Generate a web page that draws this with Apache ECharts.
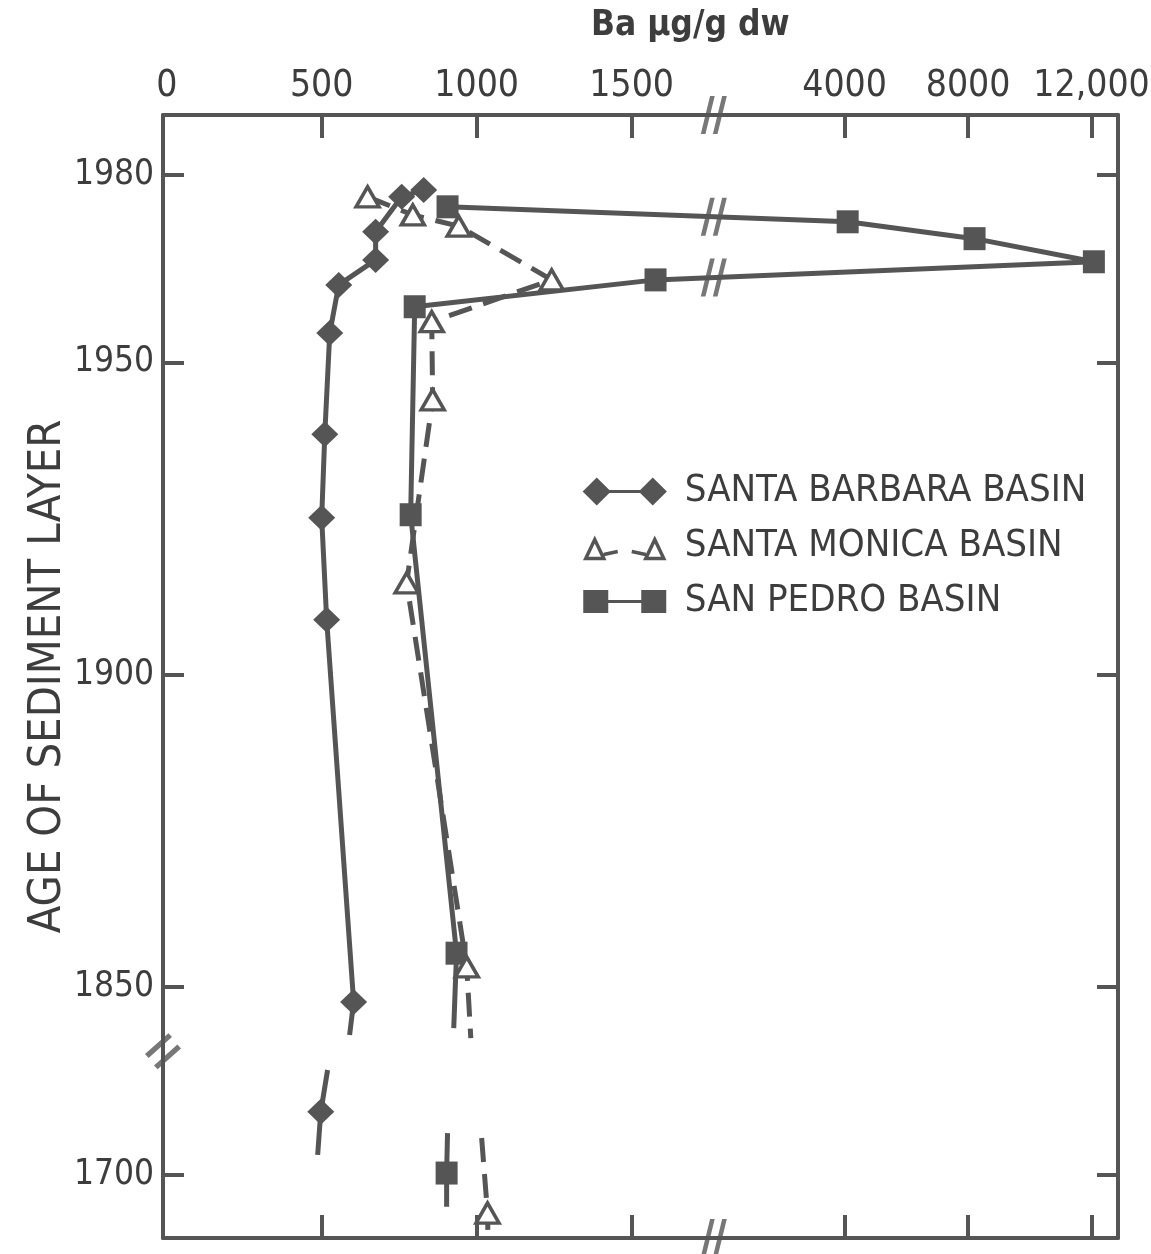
<!DOCTYPE html>
<html>
<head>
<meta charset="utf-8">
<script src="https://cdn.jsdelivr.net/npm/echarts@6/dist/echarts.min.js"></script>
<style>
  html, body { margin: 0; padding: 0; background: #ffffff; }
  #chart { width: 1151px; height: 1254px; }
</style>
</head>
<body>
<div id="chart"></div>
<script>
// ---------------- data ----------------
// Santa Barbara Basin: Ba (ug/g dw) and age (year) of each sediment layer
const sbBa   = [829, 758, 674, 674, 555, 526, 510, 500, 516, 603];
const sbYear = [1977.6, 1976.5, 1970.9, 1966.4, 1962.4, 1954.7, 1938.5, 1925.1, 1908.8, 1847.6];
const sbUpperStubBa = [590],  sbUpperStubYear = [1842.3];           // line continuing below last point
const sbLowBa   = [519, 497, 487];                                   // deep layer: stub, point, stub
const sbLowYear = [1716.8, 1710.1, 1703.2];

// Santa Monica Basin
const smBa   = [648, 794, 942, 1242, 855, 858, 774, 968];
const smYear = [1976.5, 1973.6, 1971.8, 1963.2, 1956.5, 1944.0, 1914.7, 1853.2];
const smUpperStubBa = [981],  smUpperStubYear = [1841.8];
const smLowBa   = [1016, 1035, 1036];
const smLowYear = [1705.9, 1693.9, 1691.2];

// San Pedro Basin
const spBa   = [906, 4100, 8210, 12075, 1577, 800, 787, 935];
const spYear = [1974.9, 1972.5, 1969.8, 1966.1, 1963.2, 1958.9, 1925.6, 1855.4];
const spUpperStubBa = [926],  spUpperStubYear = [1843.4];
const spLowBa   = [906, 903, 903];
const spLowYear = [1706.7, 1700.3, 1694.9];

// axis ticks
const xTickValues = [0, 500, 1000, 1500, 4000, 8000, 12000];
const xTickLabels = ['0', '500', '1000', '1500', '4000', '8000', '12,000'];
const yTickValues = [1980, 1950, 1900, 1850, 1700];
const yTickLabels = ['1980', '1950', '1900', '1850', '1700'];

const seriesNames = ['SANTA BARBARA BASIN', 'SANTA MONICA BASIN', 'SAN PEDRO BASIN'];

// ---------------- broken-scale definitions ----------------
// x: linear 0..~1765, then a compressed linear scale for the high values
const X_LOW_LIMIT = 2000, X_UP_START = 1788.5, X_UP_K = 0.0996;
const X_BREAK = 1765, X_MIN = -12, X_MAX = 3069;
function fx(v) { return v <= X_LOW_LIMIT ? v : X_UP_START + v * X_UP_K; }
// y: same scale, but the deep (pre-1800) section is shifted up past the break
const Y_LOW_LIMIT = 1800, Y_LOW_SHIFT = 119.9;
const Y_BREAK = 1839.7, Y_MIN = 1809.8, Y_MAX = 1989.6;
function fy(y) { return y >= Y_LOW_LIMIT ? y : y + Y_LOW_SHIFT; }

const INK = '#555555';
const TXT = '#3d3d3d';
const FONT = "'Liberation Sans Narrow','DejaVu Sans Condensed','Roboto Condensed','Liberation Sans',sans-serif";

function pts(xs, ys) { return xs.map((v, i) => [fx(v), fy(ys[i])]); }
function bare(p) { return { value: p, symbol: 'none' }; }

function buildSeriesData(ba, yr, stubBa, stubYr, lowBa, lowYr) {
  const main = pts(ba, yr);
  const stub = pts(stubBa, stubYr).map(bare);
  const low = pts(lowBa, lowYr);
  // deep layer: first and last are line stubs, middle is the measured point
  const lowData = low.map((p, i) => (i === 1 ? p : bare(p)));
  return main.concat(stub, [null], lowData);
}

const sbData = buildSeriesData(sbBa, sbYear, sbUpperStubBa, sbUpperStubYear, sbLowBa, sbLowYear);
const smData = buildSeriesData(smBa, smYear, smUpperStubBa, smUpperStubYear, smLowBa, smLowYear);
const spData = buildSeriesData(spBa, spYear, spUpperStubBa, spUpperStubYear, spLowBa, spLowYear);

// break marks ("//") where lines cross the x break, plus on the frame
function crossings(ba, yr) {
  const p = pts(ba, yr), out = [];
  for (let i = 0; i < p.length - 1; i++) {
    const a = p[i], b = p[i + 1];
    if ((a[0] - X_BREAK) * (b[0] - X_BREAK) < 0) {
      const t = (X_BREAK - a[0]) / (b[0] - a[0]);
      out.push([X_BREAK, a[1] + t * (b[1] - a[1])]);
    }
  }
  return out;
}
const xBreakMarks = [[X_BREAK, Y_MAX], [X_BREAK, Y_MIN]].concat(crossings(spBa, spYear));
const yBreakMarks = [[X_MIN, Y_BREAK]];

const BREAK_H = 'path://M0,40L10,0L15,0L5,40Z M13,40L23,0L28,0L18,40Z';
const BREAK_V = 'path://M0,24L26,2L30,6L4,28Z M10,36L36,14L40,18L14,40Z';

const xTickU = xTickValues.map(fx);
const yTickT = yTickValues.map(fy);
function xLabel(val) { const i = xTickU.findIndex(u => Math.abs(u - val) < 0.01); return i >= 0 ? xTickLabels[i] : ''; }
function yLabel(val) { const i = yTickT.findIndex(u => Math.abs(u - val) < 0.01); return i >= 0 ? yTickLabels[i] : ''; }

const axisLineStyle = { color: INK, width: 4 };

const option = {
  animation: false,
  backgroundColor: '#ffffff',
  title: {
    text: 'Ba \u00b5g/g dw',
    left: 586, top: 3,
    textStyle: { fontFamily: FONT, fontSize: 35, fontWeight: 'bold', color: TXT }
  },
  legend: {
    orient: 'vertical',
    left: 578, top: 466,
    padding: 5,
    itemWidth: 80, itemHeight: 24, itemGap: 14,
    textStyle: { fontFamily: FONT, fontSize: 38, lineHeight: 41, color: TXT, padding: [0, 0, 0, 15] },
    data: [
      { name: seriesNames[0],
        icon: 'path://M0,12L12,0L24,12L12,24Z M24,12L56,12 M56,12L68,0L80,12L68,24Z',
        itemStyle: { color: INK, borderColor: INK, borderWidth: 3 } },
      { name: seriesNames[1],
        icon: 'path://M1,24L10,5L19,24Z M19,20L33,17 M47,17L61,20 M61,24L70,5L79,24Z M0,0 M80,0',
        itemStyle: { color: '#ffffff', borderColor: INK, borderWidth: 3.5 } },
      { name: seriesNames[2],
        icon: 'path://M0,2L22,2L22,22L0,22Z M22,12L58,12 M58,2L80,2L80,22L58,22Z',
        itemStyle: { color: INK, borderColor: INK, borderWidth: 3 } }
    ]
  },
  grid: { left: 163, right: 33, top: 115, bottom: 16, containLabel: false, outerBoundsMode: 'none' },
  xAxis: [
    {
      type: 'value', position: 'top', min: X_MIN, max: X_MAX,
      axisLine: { show: true, onZero: false, lineStyle: axisLineStyle },
      axisTick: { show: true, inside: true, length: 23, lineStyle: { color: INK, width: 4 },
                  customValues: xTickU.slice(1) },
      axisLabel: { show: true, customValues: xTickU, formatter: xLabel, margin: 10,
                   showMinLabel: true, showMaxLabel: true, hideOverlap: false,
                   fontFamily: FONT, fontSize: 37, color: TXT },
      splitLine: { show: false }
    },
    {
      type: 'value', position: 'bottom', min: X_MIN, max: X_MAX,
      axisLine: { show: true, onZero: false, lineStyle: axisLineStyle },
      axisTick: { show: true, inside: true, length: 23, lineStyle: { color: INK, width: 4 },
                  customValues: xTickU.slice(1) },
      axisLabel: { show: false },
      splitLine: { show: false }
    }
  ],
  yAxis: [
    {
      type: 'value', position: 'left', min: Y_MIN, max: Y_MAX,
      name: 'AGE OF SEDIMENT LAYER', nameLocation: 'middle', nameGap: 92, nameRotate: 90,
      nameMoveOverlap: false,
      nameTextStyle: { fontFamily: FONT, fontSize: 45, color: TXT },
      axisLine: { show: true, onZero: false, lineStyle: axisLineStyle },
      axisTick: { show: true, inside: true, length: 21, lineStyle: { color: INK, width: 4 },
                  customValues: yTickT },
      axisLabel: { show: true, customValues: yTickT, formatter: yLabel, margin: 9,
                   showMinLabel: true, showMaxLabel: true,
                   fontFamily: FONT, fontSize: 35, color: TXT },
      splitLine: { show: false }
    },
    {
      type: 'value', position: 'right', min: Y_MIN, max: Y_MAX,
      axisLine: { show: true, onZero: false, lineStyle: axisLineStyle },
      axisTick: { show: true, inside: true, length: 21, lineStyle: { color: INK, width: 4 },
                  customValues: yTickT },
      axisLabel: { show: false },
      splitLine: { show: false }
    }
  ],
  series: [
    {
      name: seriesNames[0], type: 'line', data: sbData, connectNulls: false,
      symbol: 'diamond', symbolSize: [27, 26],
      itemStyle: { color: INK },
      lineStyle: { color: INK, width: 5 },
      z: 3
    },
    {
      name: seriesNames[1], type: 'line', data: smData, connectNulls: false,
      symbol: 'triangle', symbolSize: [23, 20],
      itemStyle: { color: '#ffffff', borderColor: INK, borderWidth: 3.5 },
      lineStyle: { color: INK, width: 5, type: [24, 12] },
      z: 4
    },
    {
      name: seriesNames[2], type: 'line', data: spData, connectNulls: false,
      symbol: 'rect', symbolSize: [22, 23],
      itemStyle: { color: INK },
      lineStyle: { color: INK, width: 5 },
      z: 3
    },
    {
      name: 'x-break', type: 'scatter', data: xBreakMarks, clip: false,
      symbol: BREAK_H, symbolSize: [26, 38], itemStyle: { color: INK }, z: 6, silent: true
    },
    {
      name: 'y-break', type: 'scatter', data: yBreakMarks, clip: false,
      symbol: BREAK_V, symbolSize: [36, 36], itemStyle: { color: INK }, z: 6, silent: true
    }
  ]
};

const chart = echarts.init(document.getElementById('chart'), null, { renderer: 'canvas' });
chart.setOption(option);
</script>
</body>
</html>
